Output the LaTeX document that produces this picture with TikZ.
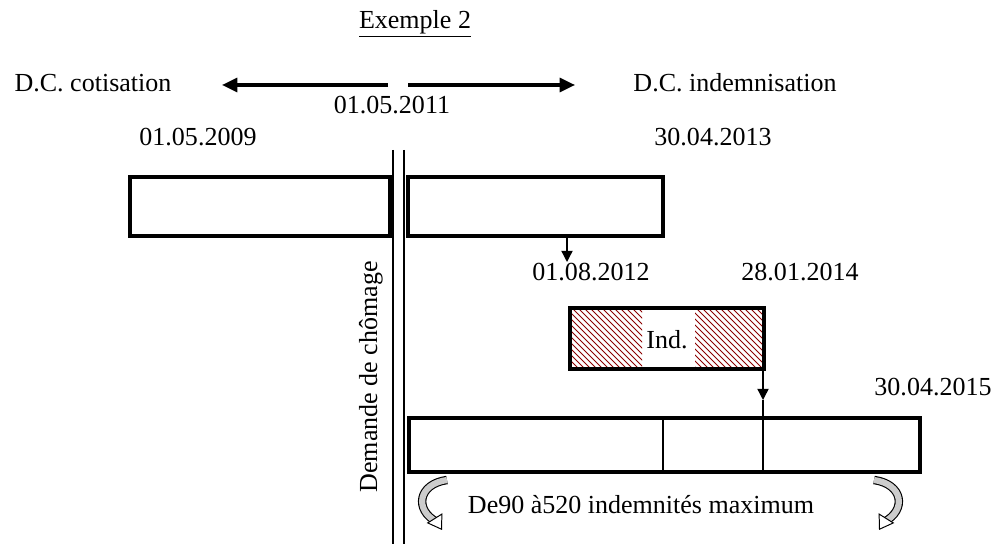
\documentclass[tikz,border=0pt]{standalone}
\usepackage{fontspec}
\setmainfont{Liberation Serif}
\usetikzlibrary{arrows.meta}

\tikzset{
  boite/.style={draw, line width=2.8pt},
  fleche/.style={line width=2.2pt, -{Triangle[length=11pt,width=10pt]}},
  petite/.style={line width=1pt, -{Triangle[length=8pt,width=8pt]}},
  courbe/.style={draw=black, line width=6pt},
  courbein/.style={draw=gray!40, line width=4.4pt},
  pointe/.style={-{Triangle[fill=white,line width=0.7pt,length=10pt,width=13pt]}, line width=0.7pt},
  hachure/.style={draw=red!55!black, line width=0.6pt}
}

\begin{document}
\begin{tikzpicture}[x=0.025cm,y=-0.025cm, every node/.style={font=\fontsize{18.5}{21}\selectfont, inner sep=0pt}]
\useasboundingbox (0,0) rectangle (997,544);

\def\boxa{(130,177) rectangle (390,236)}
\def\boxb{(408,177) rectangle (663,236)}
\def\boxind{(570,308) rectangle (764,369)}
\def\boxc{(409,418) rectangle (920,472)}
\def\hacha{(572,310) rectangle (642,367)}
\def\hachb{(695,310) rectangle (762,367)}

% textes
\node (titre) at (415,24) {\underline{Exemple 2}};
\node (cotis) at (93,83) {D.C. cotisation};
\node (indem) at (735,83) {D.C. indemnisation};
\node (dmilieu) at (392,105) {01.05.2011};
\node (ddebut) at (198,137) {01.05.2009};
\node (dfin) at (713,137) {30.04.2013};
\node (daout) at (591,272) {01.08.2012};
\node (djanv) at (800,272) {28.01.2014};
\node (davril) at (933,387) {30.04.2015};
\node[rotate=90] (demande) at (371,377) {Demande de chômage};
\node (maxi) at (641,505) {De90 à520 indemnités maximum};

% fleches du haut
\coordinate (ga) at (388,85);
\coordinate (gb) at (222,85);
\coordinate (da) at (408,85);
\coordinate (db) at (575,85);
\draw[fleche] (ga) -- (gb);
\draw[fleche] (da) -- (db);

% double trait
\draw[line width=1pt] (393,150) -- (393,544);
\draw[line width=1pt] (404,150) -- (404,544);

% hachures
\begin{scope}
\clip \hacha;
\foreach \i in {480,486,...,660}
  \draw[hachure] (\i,300) -- ++(80,80);
\end{scope}
\begin{scope}
\clip \hachb;
\foreach \i in {610,616,...,780}
  \draw[hachure] (\i,300) -- ++(80,80);
\end{scope}

\draw[boite] \boxa;
\draw[boite] \boxb;
\draw[boite] \boxind;
\draw[boite] \boxc;
\node (ind) at (667,340) {Ind.};

% separations
\draw[line width=1pt] (663,418) -- (663,472);
\coordinate (sa) at (567,236);
\coordinate (sb) at (567,262);
\draw[petite] (sa) -- (sb);
\coordinate (ta) at (763,369);
\coordinate (tb) at (763,400);
\coordinate (tc) at (763,472);
\draw[petite] (ta) -- (tb);
\draw[line width=1pt] (tb) -- (tc);

% fleches courbes
\coordinate (ca) at (447,480);
\coordinate (cb) at (437,522);
\draw[courbe] (ca) .. controls (418,484) and (414,510) .. (cb);
\draw[courbein] (ca) .. controls (418,484) and (414,510) .. (cb);
\draw[pointe] (cb) -- ++(5,8);
\coordinate (cc) at (874,480);
\coordinate (cd) at (884,522);
\draw[courbe] (cc) .. controls (903,484) and (907,510) .. (cd);
\draw[courbein] (cc) .. controls (903,484) and (907,510) .. (cd);
\draw[pointe] (cd) -- ++(-5,8);
\end{tikzpicture}
\end{document}
